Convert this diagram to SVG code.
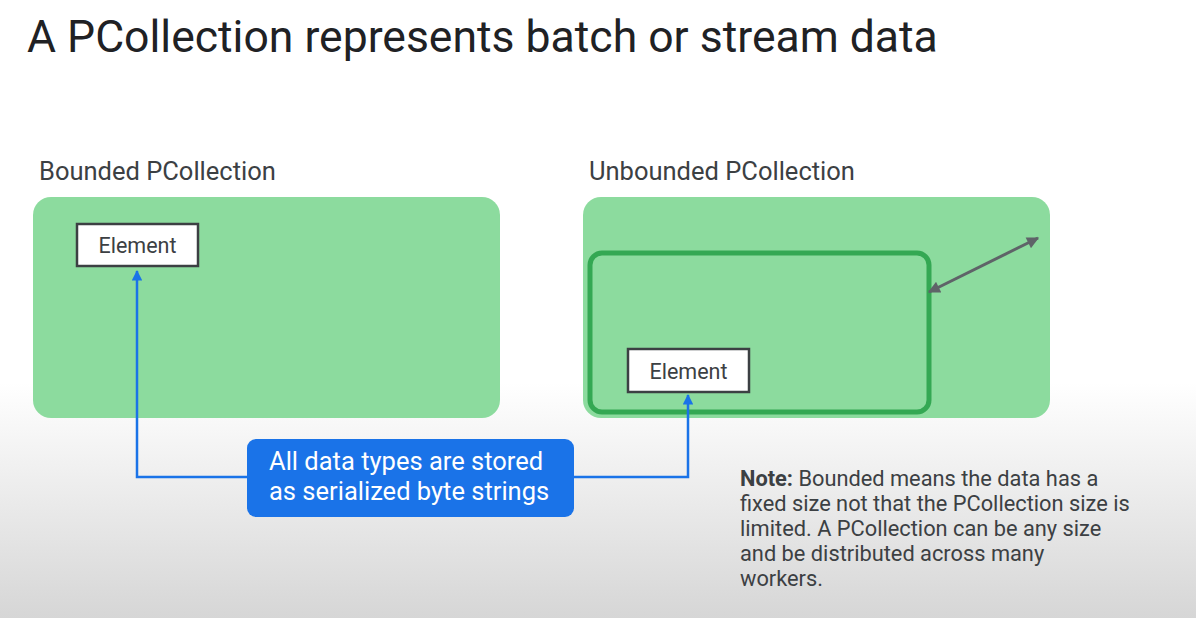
<svg xmlns="http://www.w3.org/2000/svg" width="1196" height="618" viewBox="0 0 1196 618">
  <defs>
    <linearGradient id="bg" x1="0" y1="0" x2="0" y2="1">
      <stop offset="0" stop-color="#ffffff"/>
      <stop offset="0.62" stop-color="#ffffff"/>
      <stop offset="0.75" stop-color="#f1f1f1"/>
      <stop offset="1" stop-color="#d6d6d6"/>
    </linearGradient>
    <marker id="blueHead" viewBox="0 0 10 10" refX="9" refY="5" markerWidth="4.6" markerHeight="4.2" orient="auto-start-reverse" markerUnits="strokeWidth">
      <path d="M0,0 L10,5 L0,10 z" fill="#1a73e8"/>
    </marker>
    <marker id="greyHead" viewBox="0 0 10 10" refX="9" refY="5" markerWidth="4.5" markerHeight="4" orient="auto-start-reverse" markerUnits="strokeWidth">
      <path d="M0,0 L10,5 L0,10 z" fill="#5f6368"/>
    </marker>
    <style>
      .title { font-family: Roboto, "Liberation Sans", sans-serif; font-size: 44.5px; fill: #202124; }
      .label { font-family: Roboto, "Liberation Sans", sans-serif; font-size: 25.5px; fill: #3c4043; }
      .pc { fill: #8cdb9e; }
      .elem rect { fill: #ffffff; stroke: #3c4043; stroke-width: 2.5; }
      .elem text { font-family: Roboto, "Liberation Sans", sans-serif; font-size: 21.5px; fill: #3c4043; text-anchor: middle; }
      .callout text { font-family: Roboto, "Liberation Sans", sans-serif; font-size: 25.5px; fill: #ffffff; }
      .note { font-family: Roboto, "Liberation Sans", sans-serif; font-size: 21.8px; fill: #3c4043; }
      .blue { fill: none; stroke: #1a73e8; stroke-width: 2.5; }
    </style>
  </defs>

  <rect x="0" y="0" width="1196" height="618" fill="url(#bg)"/>

  <text class="title" x="27" y="52">A PCollection represents batch or stream data</text>

  <g id="bounded">
    <text class="label" x="39" y="180">Bounded PCollection</text>
    <rect class="pc" x="33" y="197" width="467" height="221" rx="18"/>
  </g>

  <g id="unbounded">
    <text class="label" x="589" y="180">Unbounded PCollection</text>
    <rect class="pc" x="583" y="197" width="467" height="221" rx="18"/>
  </g>

  <g id="window">
    <rect x="590" y="253" width="339" height="159" rx="12" fill="none" stroke="#34a853" stroke-width="5"/>
  </g>

  <g id="element-bounded" class="elem">
    <rect x="77" y="224" width="121" height="42"/>
    <text x="137.5" y="252.5">Element</text>
  </g>

  <g id="element-unbounded" class="elem">
    <rect x="628" y="349" width="121" height="43"/>
    <text x="688.5" y="378.5">Element</text>
  </g>

  <g id="connectors">
    <polyline class="blue" points="248,477 137,477 137,271" marker-end="url(#blueHead)"/>
    <polyline class="blue" points="574,477 688,477 688,395" marker-end="url(#blueHead)"/>
    <line x1="929" y1="292" x2="1038" y2="238" stroke="#5f6368" stroke-width="3" marker-start="url(#greyHead)" marker-end="url(#greyHead)"/>
  </g>

  <g id="callout" class="callout">
    <rect x="247" y="439" width="327" height="78" rx="9" fill="#1a73e8"/>
    <text x="269" y="470">All data types are stored</text>
    <text x="269" y="500">as serialized byte strings</text>
  </g>

  <g id="note">
    <text class="note" x="740" y="486"><tspan font-weight="bold">Note:</tspan> Bounded means the data has a</text>
    <text class="note" x="740" y="511">fixed size not that the PCollection size is</text>
    <text class="note" x="740" y="536">limited. A PCollection can be any size</text>
    <text class="note" x="740" y="561">and be distributed across many</text>
    <text class="note" x="740" y="586">workers.</text>
  </g>
</svg>
